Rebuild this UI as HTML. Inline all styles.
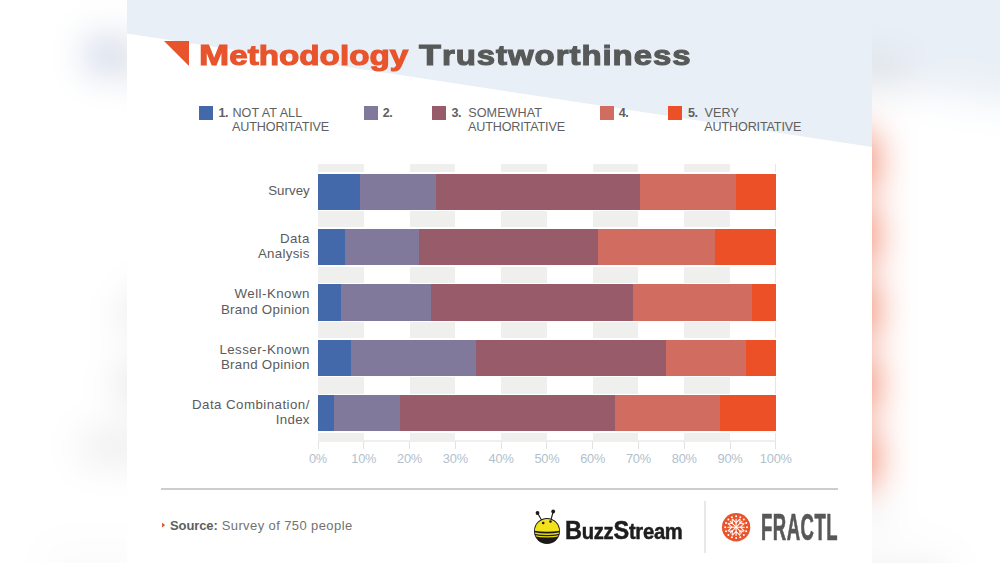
<!DOCTYPE html>
<html><head><meta charset="utf-8"><style>
html,body{margin:0;padding:0;}
body{width:1000px;height:563px;overflow:hidden;position:relative;background:#fff;font-family:"Liberation Sans", sans-serif;}
.scene{position:absolute;left:0;top:0;width:1000px;height:563px;}
.bgwrap{position:absolute;left:0;top:0;width:1000px;height:563px;filter:blur(20px);}
.bgwrap .tri{display:none;}
.bgwrap .scene{transform:scale(1.3423);transform-origin:500px 281.5px;}
</style></head><body>
<div class="bgwrap"><div class="scene">
<div style="position:absolute;left:-200px;top:-200px;width:1400px;height:963px;background:#fff"></div>
<svg style="position:absolute;left:-200px;top:-200px" width="1400" height="963"><polygon points="0,0 1400,0 1400,396.6 0,183.8" fill="#e9eff6"/></svg>
<div style="position:absolute;left:127.00px;top:0.00px;width:745.00px;height:563.00px;background:#ffffff;"></div>
<svg style="position:absolute;left:0;top:0" width="1000" height="563"><polygon points="127,0 872,0 872,147 127,33.5" fill="#e9eff6"/></svg>
<svg class="tri" style="position:absolute;left:0;top:0" width="1000" height="563"><polygon points="164,41 189,41 189,66" fill="#e8542c"/></svg>
<div class="tri" style="position:absolute;left:199.40px;top:42.02px;font-size:27.5px;line-height:27.5px;font-weight:700;color:#e8542c;letter-spacing:0px;white-space:nowrap;transform:scaleX(1.208);transform-origin:left top;-webkit-text-stroke:1.1px #e8542c;"><span style="font-size:30px;line-height:0">M</span>ethodology</div>
<div class="tri" style="position:absolute;left:419.00px;top:42.02px;font-size:27.5px;line-height:27.5px;font-weight:700;color:#575a58;letter-spacing:0.8px;white-space:nowrap;transform:scaleX(1.198);transform-origin:left top;-webkit-text-stroke:1.1px #575a58;"><span style="font-size:30px;line-height:0">T</span>rustworthiness</div>
<div style="position:absolute;left:199.00px;top:106.30px;width:14.00px;height:13.70px;background:#4469aa;"></div>
<div style="position:absolute;left:218.50px;top:106.63px;font-size:12.6px;line-height:12.6px;font-weight:700;color:#5f5f5f;letter-spacing:-0.6px;white-space:nowrap;">1.</div>
<div style="position:absolute;left:232.40px;top:106.53px;font-size:12.6px;line-height:12.6px;font-weight:400;color:#5f5f5f;letter-spacing:0.05px;white-space:nowrap;">NOT AT ALL</div>
<div style="position:absolute;left:232.10px;top:121.43px;font-size:12.6px;line-height:12.6px;font-weight:400;color:#5f5f5f;letter-spacing:-0.15px;white-space:nowrap;">AUTHORITATIVE</div>
<div style="position:absolute;left:363.60px;top:106.30px;width:14.00px;height:13.70px;background:#81799b;"></div>
<div style="position:absolute;left:382.80px;top:106.63px;font-size:12.6px;line-height:12.6px;font-weight:700;color:#5f5f5f;letter-spacing:-0.6px;white-space:nowrap;">2.</div>
<div style="position:absolute;left:431.80px;top:106.30px;width:14.00px;height:13.70px;background:#985b69;"></div>
<div style="position:absolute;left:451.60px;top:106.63px;font-size:12.6px;line-height:12.6px;font-weight:700;color:#5f5f5f;letter-spacing:-0.6px;white-space:nowrap;">3.</div>
<div style="position:absolute;left:468.30px;top:106.53px;font-size:12.6px;line-height:12.6px;font-weight:400;color:#5f5f5f;letter-spacing:0.05px;white-space:nowrap;">SOMEWHAT</div>
<div style="position:absolute;left:468.00px;top:121.43px;font-size:12.6px;line-height:12.6px;font-weight:400;color:#5f5f5f;letter-spacing:-0.15px;white-space:nowrap;">AUTHORITATIVE</div>
<div style="position:absolute;left:600.30px;top:106.30px;width:14.00px;height:13.70px;background:#d06d60;"></div>
<div style="position:absolute;left:618.80px;top:106.63px;font-size:12.6px;line-height:12.6px;font-weight:700;color:#5f5f5f;letter-spacing:-0.6px;white-space:nowrap;">4.</div>
<div style="position:absolute;left:668.00px;top:106.30px;width:14.00px;height:13.70px;background:#ec5027;"></div>
<div style="position:absolute;left:688.00px;top:106.63px;font-size:12.6px;line-height:12.6px;font-weight:700;color:#5f5f5f;letter-spacing:-0.6px;white-space:nowrap;">5.</div>
<div style="position:absolute;left:704.60px;top:106.53px;font-size:12.6px;line-height:12.6px;font-weight:400;color:#5f5f5f;letter-spacing:0.05px;white-space:nowrap;">VERY</div>
<div style="position:absolute;left:704.30px;top:121.43px;font-size:12.6px;line-height:12.6px;font-weight:400;color:#5f5f5f;letter-spacing:-0.15px;white-space:nowrap;">AUTHORITATIVE</div>
<div style="position:absolute;left:318.00px;top:163.70px;width:45.78px;height:278.30px;background:#efefed;"></div>
<div style="position:absolute;left:409.56px;top:163.70px;width:45.78px;height:278.30px;background:#efefed;"></div>
<div style="position:absolute;left:501.12px;top:163.70px;width:45.78px;height:278.30px;background:#efefed;"></div>
<div style="position:absolute;left:592.68px;top:163.70px;width:45.78px;height:278.30px;background:#efefed;"></div>
<div style="position:absolute;left:684.24px;top:163.70px;width:45.78px;height:278.30px;background:#efefed;"></div>
<div style="position:absolute;left:318.00px;top:440.00px;width:457.80px;height:2.00px;background:#efefed;"></div>
<div style="position:absolute;left:775.30px;top:163.70px;width:1.00px;height:278.30px;background:#e6e6e6;"></div>
<div style="position:absolute;left:317.50px;top:442.00px;width:1.00px;height:7.00px;background:#e2e2e2;"></div>
<div style="position:absolute;left:18.00px;width:600px;text-align:center;top:453.26px;font-size:12.8px;line-height:12.8px;font-weight:400;color:#b2bfcc;letter-spacing:-0.2px;white-space:nowrap;">0%</div>
<div style="position:absolute;left:363.28px;top:442.00px;width:1.00px;height:7.00px;background:#e2e2e2;"></div>
<div style="position:absolute;left:63.78px;width:600px;text-align:center;top:453.26px;font-size:12.8px;line-height:12.8px;font-weight:400;color:#b2bfcc;letter-spacing:-0.2px;white-space:nowrap;">10%</div>
<div style="position:absolute;left:409.06px;top:442.00px;width:1.00px;height:7.00px;background:#e2e2e2;"></div>
<div style="position:absolute;left:109.56px;width:600px;text-align:center;top:453.26px;font-size:12.8px;line-height:12.8px;font-weight:400;color:#b2bfcc;letter-spacing:-0.2px;white-space:nowrap;">20%</div>
<div style="position:absolute;left:454.84px;top:442.00px;width:1.00px;height:7.00px;background:#e2e2e2;"></div>
<div style="position:absolute;left:155.34px;width:600px;text-align:center;top:453.26px;font-size:12.8px;line-height:12.8px;font-weight:400;color:#b2bfcc;letter-spacing:-0.2px;white-space:nowrap;">30%</div>
<div style="position:absolute;left:500.62px;top:442.00px;width:1.00px;height:7.00px;background:#e2e2e2;"></div>
<div style="position:absolute;left:201.12px;width:600px;text-align:center;top:453.26px;font-size:12.8px;line-height:12.8px;font-weight:400;color:#b2bfcc;letter-spacing:-0.2px;white-space:nowrap;">40%</div>
<div style="position:absolute;left:546.40px;top:442.00px;width:1.00px;height:7.00px;background:#e2e2e2;"></div>
<div style="position:absolute;left:246.90px;width:600px;text-align:center;top:453.26px;font-size:12.8px;line-height:12.8px;font-weight:400;color:#b2bfcc;letter-spacing:-0.2px;white-space:nowrap;">50%</div>
<div style="position:absolute;left:592.18px;top:442.00px;width:1.00px;height:7.00px;background:#e2e2e2;"></div>
<div style="position:absolute;left:292.68px;width:600px;text-align:center;top:453.26px;font-size:12.8px;line-height:12.8px;font-weight:400;color:#b2bfcc;letter-spacing:-0.2px;white-space:nowrap;">60%</div>
<div style="position:absolute;left:637.96px;top:442.00px;width:1.00px;height:7.00px;background:#e2e2e2;"></div>
<div style="position:absolute;left:338.46px;width:600px;text-align:center;top:453.26px;font-size:12.8px;line-height:12.8px;font-weight:400;color:#b2bfcc;letter-spacing:-0.2px;white-space:nowrap;">70%</div>
<div style="position:absolute;left:683.74px;top:442.00px;width:1.00px;height:7.00px;background:#e2e2e2;"></div>
<div style="position:absolute;left:384.24px;width:600px;text-align:center;top:453.26px;font-size:12.8px;line-height:12.8px;font-weight:400;color:#b2bfcc;letter-spacing:-0.2px;white-space:nowrap;">80%</div>
<div style="position:absolute;left:729.52px;top:442.00px;width:1.00px;height:7.00px;background:#e2e2e2;"></div>
<div style="position:absolute;left:430.02px;width:600px;text-align:center;top:453.26px;font-size:12.8px;line-height:12.8px;font-weight:400;color:#b2bfcc;letter-spacing:-0.2px;white-space:nowrap;">90%</div>
<div style="position:absolute;left:775.30px;top:442.00px;width:1.00px;height:7.00px;background:#e2e2e2;"></div>
<div style="position:absolute;left:475.80px;width:600px;text-align:center;top:453.26px;font-size:12.8px;line-height:12.8px;font-weight:400;color:#b2bfcc;letter-spacing:-0.2px;white-space:nowrap;">100%</div>
<div style="position:absolute;left:318.00px;top:172.10px;width:457.80px;height:39.20px;background:#ffffff;"></div>
<div style="position:absolute;left:318.00px;top:173.50px;width:457.80px;height:36.40px;background:#4469aa;"></div>
<div style="position:absolute;left:360.12px;top:173.50px;width:415.68px;height:36.40px;background:#81799b;"></div>
<div style="position:absolute;left:435.65px;top:173.50px;width:340.15px;height:36.40px;background:#985b69;"></div>
<div style="position:absolute;left:639.83px;top:173.50px;width:135.97px;height:36.40px;background:#d06d60;"></div>
<div style="position:absolute;left:735.51px;top:173.50px;width:40.29px;height:36.40px;background:#ec5027;"></div>
<div style="position:absolute;right:690.20px;text-align:right;top:184.04px;font-size:13.3px;line-height:13.3px;font-weight:400;color:#5b5b5b;letter-spacing:0.05px;white-space:nowrap;">Survey</div>
<div style="position:absolute;left:318.00px;top:227.45px;width:457.80px;height:39.20px;background:#ffffff;"></div>
<div style="position:absolute;left:318.00px;top:228.85px;width:457.80px;height:36.40px;background:#4469aa;"></div>
<div style="position:absolute;left:345.01px;top:228.85px;width:430.79px;height:36.40px;background:#81799b;"></div>
<div style="position:absolute;left:418.72px;top:228.85px;width:357.08px;height:36.40px;background:#985b69;"></div>
<div style="position:absolute;left:597.72px;top:228.85px;width:178.08px;height:36.40px;background:#d06d60;"></div>
<div style="position:absolute;left:714.91px;top:228.85px;width:60.89px;height:36.40px;background:#ec5027;"></div>
<div style="position:absolute;right:690.20px;text-align:right;top:231.99px;font-size:13.3px;line-height:13.3px;font-weight:400;color:#5b5b5b;letter-spacing:0.45px;white-space:nowrap;">Data</div>
<div style="position:absolute;right:690.20px;text-align:right;top:247.19px;font-size:13.3px;line-height:13.3px;font-weight:400;color:#5b5b5b;letter-spacing:0.3px;white-space:nowrap;">Analysis</div>
<div style="position:absolute;left:318.00px;top:282.80px;width:457.80px;height:39.20px;background:#ffffff;"></div>
<div style="position:absolute;left:318.00px;top:284.20px;width:457.80px;height:36.40px;background:#4469aa;"></div>
<div style="position:absolute;left:341.35px;top:284.20px;width:434.45px;height:36.40px;background:#81799b;"></div>
<div style="position:absolute;left:430.62px;top:284.20px;width:345.18px;height:36.40px;background:#985b69;"></div>
<div style="position:absolute;left:632.51px;top:284.20px;width:143.29px;height:36.40px;background:#d06d60;"></div>
<div style="position:absolute;left:751.99px;top:284.20px;width:23.81px;height:36.40px;background:#ec5027;"></div>
<div style="position:absolute;right:690.20px;text-align:right;top:287.34px;font-size:13.3px;line-height:13.3px;font-weight:400;color:#5b5b5b;letter-spacing:0.45px;white-space:nowrap;">Well-Known</div>
<div style="position:absolute;right:690.20px;text-align:right;top:302.54px;font-size:13.3px;line-height:13.3px;font-weight:400;color:#5b5b5b;letter-spacing:0.3px;white-space:nowrap;">Brand Opinion</div>
<div style="position:absolute;left:318.00px;top:338.15px;width:457.80px;height:39.20px;background:#ffffff;"></div>
<div style="position:absolute;left:318.00px;top:339.55px;width:457.80px;height:36.40px;background:#4469aa;"></div>
<div style="position:absolute;left:350.96px;top:339.55px;width:424.84px;height:36.40px;background:#81799b;"></div>
<div style="position:absolute;left:475.94px;top:339.55px;width:299.86px;height:36.40px;background:#985b69;"></div>
<div style="position:absolute;left:666.39px;top:339.55px;width:109.41px;height:36.40px;background:#d06d60;"></div>
<div style="position:absolute;left:745.59px;top:339.55px;width:30.21px;height:36.40px;background:#ec5027;"></div>
<div style="position:absolute;right:690.20px;text-align:right;top:342.69px;font-size:13.3px;line-height:13.3px;font-weight:400;color:#5b5b5b;letter-spacing:0.45px;white-space:nowrap;">Lesser-Known</div>
<div style="position:absolute;right:690.20px;text-align:right;top:357.89px;font-size:13.3px;line-height:13.3px;font-weight:400;color:#5b5b5b;letter-spacing:0.3px;white-space:nowrap;">Brand Opinion</div>
<div style="position:absolute;left:318.00px;top:393.50px;width:457.80px;height:39.20px;background:#ffffff;"></div>
<div style="position:absolute;left:318.00px;top:394.90px;width:457.80px;height:36.40px;background:#4469aa;"></div>
<div style="position:absolute;left:334.48px;top:394.90px;width:441.32px;height:36.40px;background:#81799b;"></div>
<div style="position:absolute;left:400.40px;top:394.90px;width:375.40px;height:36.40px;background:#985b69;"></div>
<div style="position:absolute;left:614.65px;top:394.90px;width:161.15px;height:36.40px;background:#d06d60;"></div>
<div style="position:absolute;left:720.41px;top:394.90px;width:55.39px;height:36.40px;background:#ec5027;"></div>
<div style="position:absolute;right:690.20px;text-align:right;top:398.04px;font-size:13.3px;line-height:13.3px;font-weight:400;color:#5b5b5b;letter-spacing:0.45px;white-space:nowrap;">Data Combination/</div>
<div style="position:absolute;right:690.20px;text-align:right;top:413.24px;font-size:13.3px;line-height:13.3px;font-weight:400;color:#5b5b5b;letter-spacing:0.3px;white-space:nowrap;">Index</div>
<div style="position:absolute;left:160.50px;top:488.00px;width:677.50px;height:2.00px;background:#cdcdcd;"></div>
<svg style="position:absolute;left:0;top:0" width="1000" height="563"><polygon points="162,522.8 165.2,525.1 162,527.4" fill="#e8542c"/></svg>
<div style="position:absolute;left:170.00px;top:519.00px;font-size:13px;line-height:13px;font-weight:700;color:#5e5e5e;letter-spacing:-0.1px;white-space:nowrap;">Source:</div>
<div style="position:absolute;left:221.70px;top:519.20px;font-size:13px;line-height:13px;font-weight:400;color:#727272;letter-spacing:0.4px;white-space:nowrap;">Survey of 750 people</div>
<div style="position:absolute;left:703.50px;top:501.40px;width:2.00px;height:51.20px;background:#e8e8e8;"></div>
<svg style="position:absolute;left:0;top:0" width="1000" height="563">
<defs><clipPath id="bc"><circle cx="547" cy="531" r="12.1"/></clipPath></defs>
<line x1="537.5" y1="513" x2="543.2" y2="523" stroke="#1a1a1a" stroke-width="1.1"/>
<line x1="553.2" y1="511.5" x2="550.5" y2="521.5" stroke="#1a1a1a" stroke-width="1.1"/>
<circle cx="537.5" cy="513" r="1.9" fill="#1a1a1a"/><circle cx="553.2" cy="511.5" r="1.9" fill="#1a1a1a"/>
<circle cx="547" cy="531" r="13" fill="#1a1a1a"/>
<g clip-path="url(#bc)">
<path d="M530,515 L564,515 L564,530 Q547,533.5 530,530 Z" fill="#f2e21c"/>
<path d="M532,532.6 Q547,536 562,532.6" stroke="#e9da1f" stroke-width="1.4" fill="none"/>
<path d="M532,535.2 Q547,538.6 562,535.2" stroke="#e9da1f" stroke-width="1.4" fill="none"/>
</g>
<circle cx="543.2" cy="523" r="1.3" fill="#1a1a1a"/><circle cx="550.5" cy="521.5" r="1.3" fill="#1a1a1a"/>
</svg>
<div style="position:absolute;left:565.30px;top:520.98px;font-size:22px;line-height:22px;font-weight:700;color:#1e1e1e;letter-spacing:-0.3px;white-space:nowrap;transform:scaleX(0.919);transform-origin:left top;-webkit-text-stroke:0.5px #1e1e1e;"><span style="font-size:25.6px;line-height:0">B</span>uzz<span style="font-size:25.6px;line-height:0">S</span>tream</div>
<svg style="position:absolute;left:0;top:0" width="1000" height="563"><circle cx="736.1" cy="527.2" r="14.2" fill="#e8542c"/><g stroke="#fff" stroke-width="1.05" fill="none" stroke-linecap="round" stroke-linejoin="round"><line x1="736.10" y1="527.20" x2="736.10" y2="519.00"/><polyline points="739.70,519.20 736.10,522.90 732.50,519.20"/><line x1="736.10" y1="527.20" x2="741.90" y2="521.40"/><polyline points="743.45,523.24 739.78,523.52 740.06,519.85"/><line x1="736.10" y1="527.20" x2="744.30" y2="527.20"/><polyline points="744.10,530.80 740.40,527.20 744.10,523.60"/><line x1="736.10" y1="527.20" x2="741.90" y2="533.00"/><polyline points="740.06,534.55 739.78,530.88 743.45,531.16"/><line x1="736.10" y1="527.20" x2="736.10" y2="535.40"/><polyline points="732.50,535.20 736.10,531.50 739.70,535.20"/><line x1="736.10" y1="527.20" x2="730.30" y2="533.00"/><polyline points="728.75,531.16 732.42,530.88 732.14,534.55"/><line x1="736.10" y1="527.20" x2="727.90" y2="527.20"/><polyline points="728.10,523.60 731.80,527.20 728.10,530.80"/><line x1="736.10" y1="527.20" x2="730.30" y2="521.40"/><polyline points="732.14,519.85 732.42,523.52 728.75,523.24"/></g><g fill="#fff"><circle cx="747.00" cy="527.20" r="1.0"/><circle cx="746.17" cy="531.37" r="1.0"/><circle cx="743.81" cy="534.91" r="1.0"/><circle cx="740.27" cy="537.27" r="1.0"/><circle cx="736.10" cy="538.10" r="1.0"/><circle cx="731.93" cy="537.27" r="1.0"/><circle cx="728.39" cy="534.91" r="1.0"/><circle cx="726.03" cy="531.37" r="1.0"/><circle cx="725.20" cy="527.20" r="1.0"/><circle cx="726.03" cy="523.03" r="1.0"/><circle cx="728.39" cy="519.49" r="1.0"/><circle cx="731.93" cy="517.13" r="1.0"/><circle cx="736.10" cy="516.30" r="1.0"/><circle cx="740.27" cy="517.13" r="1.0"/><circle cx="743.81" cy="519.49" r="1.0"/><circle cx="746.17" cy="523.03" r="1.0"/></g></svg>
<div style="position:absolute;left:760.80px;top:509.62px;font-size:36.6px;line-height:36.6px;font-weight:700;color:#585858;letter-spacing:1.0px;white-space:nowrap;transform:scaleX(0.506);transform-origin:left top;-webkit-text-stroke:0.7px #585858;">FRACTL</div>
</div></div>
<div class="scene" style="clip-path:inset(0 128px 0 127px);">
<div style="position:absolute;left:127.00px;top:0.00px;width:745.00px;height:563.00px;background:#ffffff;"></div>
<svg style="position:absolute;left:0;top:0" width="1000" height="563"><polygon points="127,0 872,0 872,147 127,33.5" fill="#e9eff6"/></svg>
<svg class="tri" style="position:absolute;left:0;top:0" width="1000" height="563"><polygon points="164,41 189,41 189,66" fill="#e8542c"/></svg>
<div class="tri" style="position:absolute;left:199.40px;top:42.02px;font-size:27.5px;line-height:27.5px;font-weight:700;color:#e8542c;letter-spacing:0px;white-space:nowrap;transform:scaleX(1.208);transform-origin:left top;-webkit-text-stroke:1.1px #e8542c;"><span style="font-size:30px;line-height:0">M</span>ethodology</div>
<div class="tri" style="position:absolute;left:419.00px;top:42.02px;font-size:27.5px;line-height:27.5px;font-weight:700;color:#575a58;letter-spacing:0.8px;white-space:nowrap;transform:scaleX(1.198);transform-origin:left top;-webkit-text-stroke:1.1px #575a58;"><span style="font-size:30px;line-height:0">T</span>rustworthiness</div>
<div style="position:absolute;left:199.00px;top:106.30px;width:14.00px;height:13.70px;background:#4469aa;"></div>
<div style="position:absolute;left:218.50px;top:106.63px;font-size:12.6px;line-height:12.6px;font-weight:700;color:#5f5f5f;letter-spacing:-0.6px;white-space:nowrap;">1.</div>
<div style="position:absolute;left:232.40px;top:106.53px;font-size:12.6px;line-height:12.6px;font-weight:400;color:#5f5f5f;letter-spacing:0.05px;white-space:nowrap;">NOT AT ALL</div>
<div style="position:absolute;left:232.10px;top:121.43px;font-size:12.6px;line-height:12.6px;font-weight:400;color:#5f5f5f;letter-spacing:-0.15px;white-space:nowrap;">AUTHORITATIVE</div>
<div style="position:absolute;left:363.60px;top:106.30px;width:14.00px;height:13.70px;background:#81799b;"></div>
<div style="position:absolute;left:382.80px;top:106.63px;font-size:12.6px;line-height:12.6px;font-weight:700;color:#5f5f5f;letter-spacing:-0.6px;white-space:nowrap;">2.</div>
<div style="position:absolute;left:431.80px;top:106.30px;width:14.00px;height:13.70px;background:#985b69;"></div>
<div style="position:absolute;left:451.60px;top:106.63px;font-size:12.6px;line-height:12.6px;font-weight:700;color:#5f5f5f;letter-spacing:-0.6px;white-space:nowrap;">3.</div>
<div style="position:absolute;left:468.30px;top:106.53px;font-size:12.6px;line-height:12.6px;font-weight:400;color:#5f5f5f;letter-spacing:0.05px;white-space:nowrap;">SOMEWHAT</div>
<div style="position:absolute;left:468.00px;top:121.43px;font-size:12.6px;line-height:12.6px;font-weight:400;color:#5f5f5f;letter-spacing:-0.15px;white-space:nowrap;">AUTHORITATIVE</div>
<div style="position:absolute;left:600.30px;top:106.30px;width:14.00px;height:13.70px;background:#d06d60;"></div>
<div style="position:absolute;left:618.80px;top:106.63px;font-size:12.6px;line-height:12.6px;font-weight:700;color:#5f5f5f;letter-spacing:-0.6px;white-space:nowrap;">4.</div>
<div style="position:absolute;left:668.00px;top:106.30px;width:14.00px;height:13.70px;background:#ec5027;"></div>
<div style="position:absolute;left:688.00px;top:106.63px;font-size:12.6px;line-height:12.6px;font-weight:700;color:#5f5f5f;letter-spacing:-0.6px;white-space:nowrap;">5.</div>
<div style="position:absolute;left:704.60px;top:106.53px;font-size:12.6px;line-height:12.6px;font-weight:400;color:#5f5f5f;letter-spacing:0.05px;white-space:nowrap;">VERY</div>
<div style="position:absolute;left:704.30px;top:121.43px;font-size:12.6px;line-height:12.6px;font-weight:400;color:#5f5f5f;letter-spacing:-0.15px;white-space:nowrap;">AUTHORITATIVE</div>
<div style="position:absolute;left:318.00px;top:163.70px;width:45.78px;height:278.30px;background:#efefed;"></div>
<div style="position:absolute;left:409.56px;top:163.70px;width:45.78px;height:278.30px;background:#efefed;"></div>
<div style="position:absolute;left:501.12px;top:163.70px;width:45.78px;height:278.30px;background:#efefed;"></div>
<div style="position:absolute;left:592.68px;top:163.70px;width:45.78px;height:278.30px;background:#efefed;"></div>
<div style="position:absolute;left:684.24px;top:163.70px;width:45.78px;height:278.30px;background:#efefed;"></div>
<div style="position:absolute;left:318.00px;top:440.00px;width:457.80px;height:2.00px;background:#efefed;"></div>
<div style="position:absolute;left:775.30px;top:163.70px;width:1.00px;height:278.30px;background:#e6e6e6;"></div>
<div style="position:absolute;left:317.50px;top:442.00px;width:1.00px;height:7.00px;background:#e2e2e2;"></div>
<div style="position:absolute;left:18.00px;width:600px;text-align:center;top:453.26px;font-size:12.8px;line-height:12.8px;font-weight:400;color:#b2bfcc;letter-spacing:-0.2px;white-space:nowrap;">0%</div>
<div style="position:absolute;left:363.28px;top:442.00px;width:1.00px;height:7.00px;background:#e2e2e2;"></div>
<div style="position:absolute;left:63.78px;width:600px;text-align:center;top:453.26px;font-size:12.8px;line-height:12.8px;font-weight:400;color:#b2bfcc;letter-spacing:-0.2px;white-space:nowrap;">10%</div>
<div style="position:absolute;left:409.06px;top:442.00px;width:1.00px;height:7.00px;background:#e2e2e2;"></div>
<div style="position:absolute;left:109.56px;width:600px;text-align:center;top:453.26px;font-size:12.8px;line-height:12.8px;font-weight:400;color:#b2bfcc;letter-spacing:-0.2px;white-space:nowrap;">20%</div>
<div style="position:absolute;left:454.84px;top:442.00px;width:1.00px;height:7.00px;background:#e2e2e2;"></div>
<div style="position:absolute;left:155.34px;width:600px;text-align:center;top:453.26px;font-size:12.8px;line-height:12.8px;font-weight:400;color:#b2bfcc;letter-spacing:-0.2px;white-space:nowrap;">30%</div>
<div style="position:absolute;left:500.62px;top:442.00px;width:1.00px;height:7.00px;background:#e2e2e2;"></div>
<div style="position:absolute;left:201.12px;width:600px;text-align:center;top:453.26px;font-size:12.8px;line-height:12.8px;font-weight:400;color:#b2bfcc;letter-spacing:-0.2px;white-space:nowrap;">40%</div>
<div style="position:absolute;left:546.40px;top:442.00px;width:1.00px;height:7.00px;background:#e2e2e2;"></div>
<div style="position:absolute;left:246.90px;width:600px;text-align:center;top:453.26px;font-size:12.8px;line-height:12.8px;font-weight:400;color:#b2bfcc;letter-spacing:-0.2px;white-space:nowrap;">50%</div>
<div style="position:absolute;left:592.18px;top:442.00px;width:1.00px;height:7.00px;background:#e2e2e2;"></div>
<div style="position:absolute;left:292.68px;width:600px;text-align:center;top:453.26px;font-size:12.8px;line-height:12.8px;font-weight:400;color:#b2bfcc;letter-spacing:-0.2px;white-space:nowrap;">60%</div>
<div style="position:absolute;left:637.96px;top:442.00px;width:1.00px;height:7.00px;background:#e2e2e2;"></div>
<div style="position:absolute;left:338.46px;width:600px;text-align:center;top:453.26px;font-size:12.8px;line-height:12.8px;font-weight:400;color:#b2bfcc;letter-spacing:-0.2px;white-space:nowrap;">70%</div>
<div style="position:absolute;left:683.74px;top:442.00px;width:1.00px;height:7.00px;background:#e2e2e2;"></div>
<div style="position:absolute;left:384.24px;width:600px;text-align:center;top:453.26px;font-size:12.8px;line-height:12.8px;font-weight:400;color:#b2bfcc;letter-spacing:-0.2px;white-space:nowrap;">80%</div>
<div style="position:absolute;left:729.52px;top:442.00px;width:1.00px;height:7.00px;background:#e2e2e2;"></div>
<div style="position:absolute;left:430.02px;width:600px;text-align:center;top:453.26px;font-size:12.8px;line-height:12.8px;font-weight:400;color:#b2bfcc;letter-spacing:-0.2px;white-space:nowrap;">90%</div>
<div style="position:absolute;left:775.30px;top:442.00px;width:1.00px;height:7.00px;background:#e2e2e2;"></div>
<div style="position:absolute;left:475.80px;width:600px;text-align:center;top:453.26px;font-size:12.8px;line-height:12.8px;font-weight:400;color:#b2bfcc;letter-spacing:-0.2px;white-space:nowrap;">100%</div>
<div style="position:absolute;left:318.00px;top:172.10px;width:457.80px;height:39.20px;background:#ffffff;"></div>
<div style="position:absolute;left:318.00px;top:173.50px;width:457.80px;height:36.40px;background:#4469aa;"></div>
<div style="position:absolute;left:360.12px;top:173.50px;width:415.68px;height:36.40px;background:#81799b;"></div>
<div style="position:absolute;left:435.65px;top:173.50px;width:340.15px;height:36.40px;background:#985b69;"></div>
<div style="position:absolute;left:639.83px;top:173.50px;width:135.97px;height:36.40px;background:#d06d60;"></div>
<div style="position:absolute;left:735.51px;top:173.50px;width:40.29px;height:36.40px;background:#ec5027;"></div>
<div style="position:absolute;right:690.20px;text-align:right;top:184.04px;font-size:13.3px;line-height:13.3px;font-weight:400;color:#5b5b5b;letter-spacing:0.05px;white-space:nowrap;">Survey</div>
<div style="position:absolute;left:318.00px;top:227.45px;width:457.80px;height:39.20px;background:#ffffff;"></div>
<div style="position:absolute;left:318.00px;top:228.85px;width:457.80px;height:36.40px;background:#4469aa;"></div>
<div style="position:absolute;left:345.01px;top:228.85px;width:430.79px;height:36.40px;background:#81799b;"></div>
<div style="position:absolute;left:418.72px;top:228.85px;width:357.08px;height:36.40px;background:#985b69;"></div>
<div style="position:absolute;left:597.72px;top:228.85px;width:178.08px;height:36.40px;background:#d06d60;"></div>
<div style="position:absolute;left:714.91px;top:228.85px;width:60.89px;height:36.40px;background:#ec5027;"></div>
<div style="position:absolute;right:690.20px;text-align:right;top:231.99px;font-size:13.3px;line-height:13.3px;font-weight:400;color:#5b5b5b;letter-spacing:0.45px;white-space:nowrap;">Data</div>
<div style="position:absolute;right:690.20px;text-align:right;top:247.19px;font-size:13.3px;line-height:13.3px;font-weight:400;color:#5b5b5b;letter-spacing:0.3px;white-space:nowrap;">Analysis</div>
<div style="position:absolute;left:318.00px;top:282.80px;width:457.80px;height:39.20px;background:#ffffff;"></div>
<div style="position:absolute;left:318.00px;top:284.20px;width:457.80px;height:36.40px;background:#4469aa;"></div>
<div style="position:absolute;left:341.35px;top:284.20px;width:434.45px;height:36.40px;background:#81799b;"></div>
<div style="position:absolute;left:430.62px;top:284.20px;width:345.18px;height:36.40px;background:#985b69;"></div>
<div style="position:absolute;left:632.51px;top:284.20px;width:143.29px;height:36.40px;background:#d06d60;"></div>
<div style="position:absolute;left:751.99px;top:284.20px;width:23.81px;height:36.40px;background:#ec5027;"></div>
<div style="position:absolute;right:690.20px;text-align:right;top:287.34px;font-size:13.3px;line-height:13.3px;font-weight:400;color:#5b5b5b;letter-spacing:0.45px;white-space:nowrap;">Well-Known</div>
<div style="position:absolute;right:690.20px;text-align:right;top:302.54px;font-size:13.3px;line-height:13.3px;font-weight:400;color:#5b5b5b;letter-spacing:0.3px;white-space:nowrap;">Brand Opinion</div>
<div style="position:absolute;left:318.00px;top:338.15px;width:457.80px;height:39.20px;background:#ffffff;"></div>
<div style="position:absolute;left:318.00px;top:339.55px;width:457.80px;height:36.40px;background:#4469aa;"></div>
<div style="position:absolute;left:350.96px;top:339.55px;width:424.84px;height:36.40px;background:#81799b;"></div>
<div style="position:absolute;left:475.94px;top:339.55px;width:299.86px;height:36.40px;background:#985b69;"></div>
<div style="position:absolute;left:666.39px;top:339.55px;width:109.41px;height:36.40px;background:#d06d60;"></div>
<div style="position:absolute;left:745.59px;top:339.55px;width:30.21px;height:36.40px;background:#ec5027;"></div>
<div style="position:absolute;right:690.20px;text-align:right;top:342.69px;font-size:13.3px;line-height:13.3px;font-weight:400;color:#5b5b5b;letter-spacing:0.45px;white-space:nowrap;">Lesser-Known</div>
<div style="position:absolute;right:690.20px;text-align:right;top:357.89px;font-size:13.3px;line-height:13.3px;font-weight:400;color:#5b5b5b;letter-spacing:0.3px;white-space:nowrap;">Brand Opinion</div>
<div style="position:absolute;left:318.00px;top:393.50px;width:457.80px;height:39.20px;background:#ffffff;"></div>
<div style="position:absolute;left:318.00px;top:394.90px;width:457.80px;height:36.40px;background:#4469aa;"></div>
<div style="position:absolute;left:334.48px;top:394.90px;width:441.32px;height:36.40px;background:#81799b;"></div>
<div style="position:absolute;left:400.40px;top:394.90px;width:375.40px;height:36.40px;background:#985b69;"></div>
<div style="position:absolute;left:614.65px;top:394.90px;width:161.15px;height:36.40px;background:#d06d60;"></div>
<div style="position:absolute;left:720.41px;top:394.90px;width:55.39px;height:36.40px;background:#ec5027;"></div>
<div style="position:absolute;right:690.20px;text-align:right;top:398.04px;font-size:13.3px;line-height:13.3px;font-weight:400;color:#5b5b5b;letter-spacing:0.45px;white-space:nowrap;">Data Combination/</div>
<div style="position:absolute;right:690.20px;text-align:right;top:413.24px;font-size:13.3px;line-height:13.3px;font-weight:400;color:#5b5b5b;letter-spacing:0.3px;white-space:nowrap;">Index</div>
<div style="position:absolute;left:160.50px;top:488.00px;width:677.50px;height:2.00px;background:#cdcdcd;"></div>
<svg style="position:absolute;left:0;top:0" width="1000" height="563"><polygon points="162,522.8 165.2,525.1 162,527.4" fill="#e8542c"/></svg>
<div style="position:absolute;left:170.00px;top:519.00px;font-size:13px;line-height:13px;font-weight:700;color:#5e5e5e;letter-spacing:-0.1px;white-space:nowrap;">Source:</div>
<div style="position:absolute;left:221.70px;top:519.20px;font-size:13px;line-height:13px;font-weight:400;color:#727272;letter-spacing:0.4px;white-space:nowrap;">Survey of 750 people</div>
<div style="position:absolute;left:703.50px;top:501.40px;width:2.00px;height:51.20px;background:#e8e8e8;"></div>
<svg style="position:absolute;left:0;top:0" width="1000" height="563">
<defs><clipPath id="bc"><circle cx="547" cy="531" r="12.1"/></clipPath></defs>
<line x1="537.5" y1="513" x2="543.2" y2="523" stroke="#1a1a1a" stroke-width="1.1"/>
<line x1="553.2" y1="511.5" x2="550.5" y2="521.5" stroke="#1a1a1a" stroke-width="1.1"/>
<circle cx="537.5" cy="513" r="1.9" fill="#1a1a1a"/><circle cx="553.2" cy="511.5" r="1.9" fill="#1a1a1a"/>
<circle cx="547" cy="531" r="13" fill="#1a1a1a"/>
<g clip-path="url(#bc)">
<path d="M530,515 L564,515 L564,530 Q547,533.5 530,530 Z" fill="#f2e21c"/>
<path d="M532,532.6 Q547,536 562,532.6" stroke="#e9da1f" stroke-width="1.4" fill="none"/>
<path d="M532,535.2 Q547,538.6 562,535.2" stroke="#e9da1f" stroke-width="1.4" fill="none"/>
</g>
<circle cx="543.2" cy="523" r="1.3" fill="#1a1a1a"/><circle cx="550.5" cy="521.5" r="1.3" fill="#1a1a1a"/>
</svg>
<div style="position:absolute;left:565.30px;top:520.98px;font-size:22px;line-height:22px;font-weight:700;color:#1e1e1e;letter-spacing:-0.3px;white-space:nowrap;transform:scaleX(0.919);transform-origin:left top;-webkit-text-stroke:0.5px #1e1e1e;"><span style="font-size:25.6px;line-height:0">B</span>uzz<span style="font-size:25.6px;line-height:0">S</span>tream</div>
<svg style="position:absolute;left:0;top:0" width="1000" height="563"><circle cx="736.1" cy="527.2" r="14.2" fill="#e8542c"/><g stroke="#fff" stroke-width="1.05" fill="none" stroke-linecap="round" stroke-linejoin="round"><line x1="736.10" y1="527.20" x2="736.10" y2="519.00"/><polyline points="739.70,519.20 736.10,522.90 732.50,519.20"/><line x1="736.10" y1="527.20" x2="741.90" y2="521.40"/><polyline points="743.45,523.24 739.78,523.52 740.06,519.85"/><line x1="736.10" y1="527.20" x2="744.30" y2="527.20"/><polyline points="744.10,530.80 740.40,527.20 744.10,523.60"/><line x1="736.10" y1="527.20" x2="741.90" y2="533.00"/><polyline points="740.06,534.55 739.78,530.88 743.45,531.16"/><line x1="736.10" y1="527.20" x2="736.10" y2="535.40"/><polyline points="732.50,535.20 736.10,531.50 739.70,535.20"/><line x1="736.10" y1="527.20" x2="730.30" y2="533.00"/><polyline points="728.75,531.16 732.42,530.88 732.14,534.55"/><line x1="736.10" y1="527.20" x2="727.90" y2="527.20"/><polyline points="728.10,523.60 731.80,527.20 728.10,530.80"/><line x1="736.10" y1="527.20" x2="730.30" y2="521.40"/><polyline points="732.14,519.85 732.42,523.52 728.75,523.24"/></g><g fill="#fff"><circle cx="747.00" cy="527.20" r="1.0"/><circle cx="746.17" cy="531.37" r="1.0"/><circle cx="743.81" cy="534.91" r="1.0"/><circle cx="740.27" cy="537.27" r="1.0"/><circle cx="736.10" cy="538.10" r="1.0"/><circle cx="731.93" cy="537.27" r="1.0"/><circle cx="728.39" cy="534.91" r="1.0"/><circle cx="726.03" cy="531.37" r="1.0"/><circle cx="725.20" cy="527.20" r="1.0"/><circle cx="726.03" cy="523.03" r="1.0"/><circle cx="728.39" cy="519.49" r="1.0"/><circle cx="731.93" cy="517.13" r="1.0"/><circle cx="736.10" cy="516.30" r="1.0"/><circle cx="740.27" cy="517.13" r="1.0"/><circle cx="743.81" cy="519.49" r="1.0"/><circle cx="746.17" cy="523.03" r="1.0"/></g></svg>
<div style="position:absolute;left:760.80px;top:509.62px;font-size:36.6px;line-height:36.6px;font-weight:700;color:#585858;letter-spacing:1.0px;white-space:nowrap;transform:scaleX(0.506);transform-origin:left top;-webkit-text-stroke:0.7px #585858;">FRACTL</div>
</div>
</body></html>
